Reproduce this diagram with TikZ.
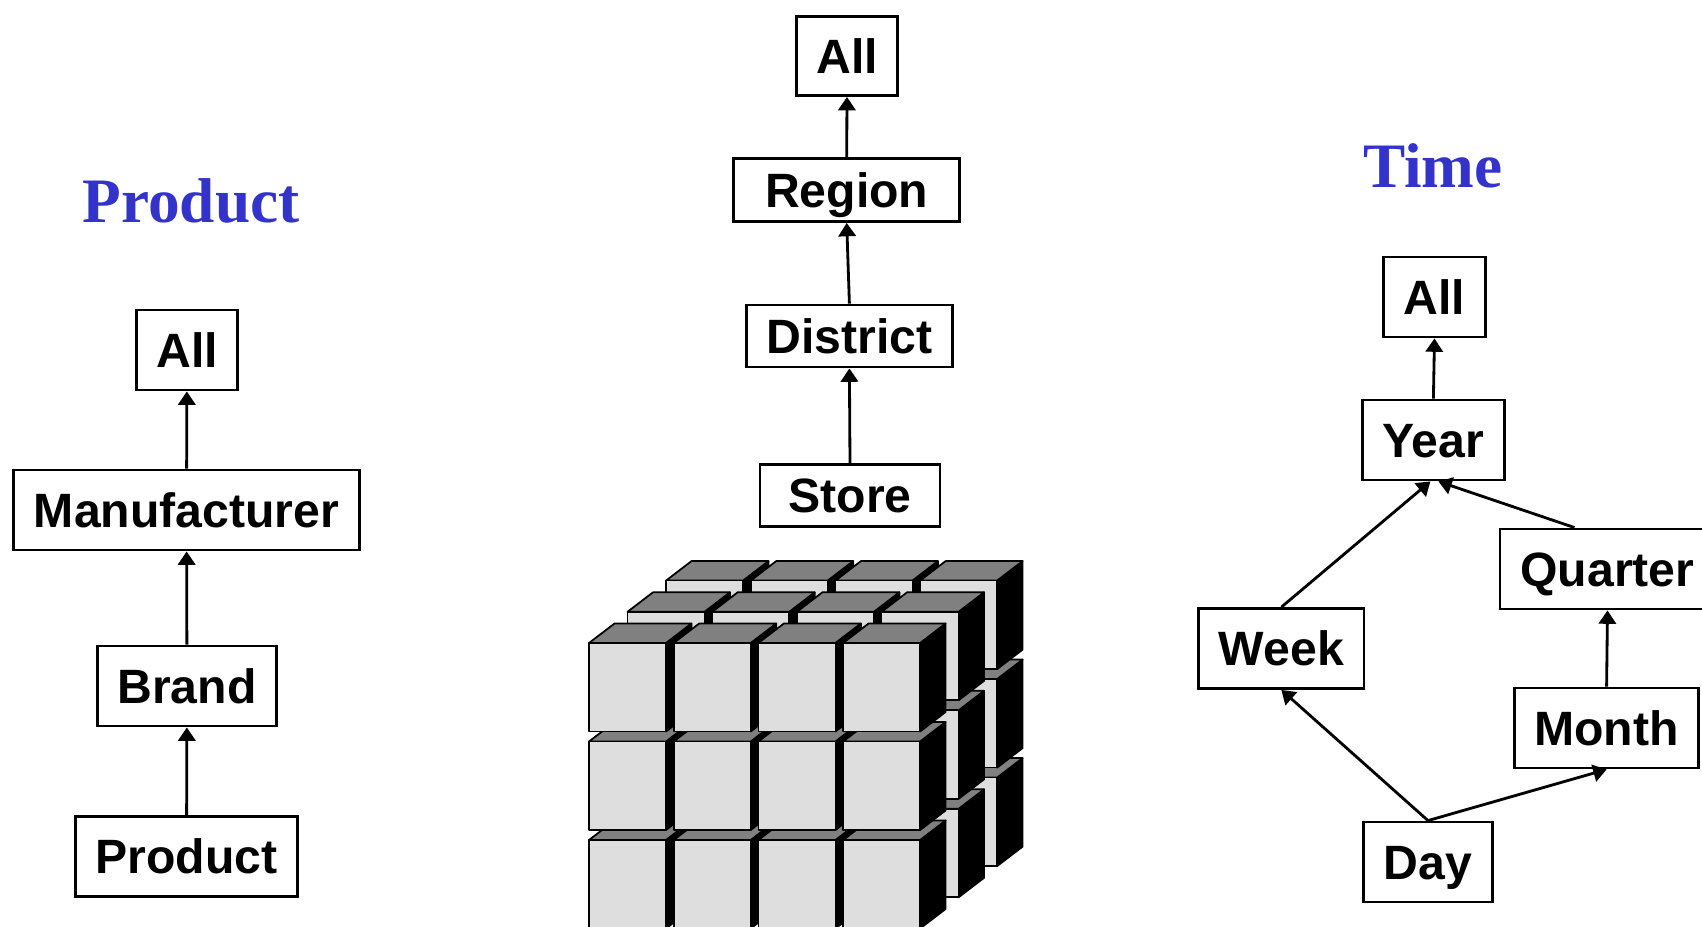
\documentclass[tikz,border=0pt]{standalone}
\usepackage{fontspec}
\setmainfont{Liberation Sans}
\newfontfamily\titlefont{Liberation Serif}
\usepackage{tikz}
\usetikzlibrary{arrows.meta}
\definecolor{titleblue}{HTML}{3333CC}
\definecolor{cubefront}{HTML}{DEDEDE}
\definecolor{cubetop}{HTML}{808080}
\tikzstyle{lvl}=[draw,line width=0.8pt,inner xsep=0.2cm,minimum height=0.8cm,text height=0.345cm,text depth=0pt,font=\fontsize{13.7}{16}\selectfont\bfseries]
\tikzstyle{dimtitle}=[anchor=base,font=\fontsize{18}{20}\selectfont\titlefont\bfseries\color{titleblue}]
\tikzstyle{arr}=[-{Triangle[length=3.8pt,width=4.9pt]},line width=0.8pt]
\tikzstyle{cubeedge}=[draw=black,line width=0.5pt,line join=round]

\begin{document}
\begin{tikzpicture}[x=0.01cm,y=-0.01cm]
  \useasboundingbox (0,0) rectangle (1702,927);
  % product dimension
  \node[dimtitle] (prodtitle) at (191,222) {Product};
  \node[lvl] (pall) at (187,350) {All};
  \node[lvl] (pmfr) at (186.5,510) {Manufacturer};
  \node[lvl] (pbrand) at (187,686) {Brand};
  \node[lvl] (pprod) at (186.5,856.5) {Product};
  \draw[arr] (pmfr) -- (pall);
  \draw[arr] (pbrand) -- (pmfr);
  \draw[arr] (pprod) -- (pbrand);
  % store dimension
  \node[lvl,minimum height=0.79cm] (sall) at (847,56) {All};
  \node[lvl,minimum height=0.63cm,minimum width=2.26cm] (sregion) at (846.7,190) {Region};
  \node[lvl,minimum height=0.62cm] (sdistrict) at (849.4,336) {District};
  \node[lvl,minimum height=0.62cm,minimum width=1.8cm] (sstore) at (850,495.5) {Store};
  \draw[arr] (sregion.north) -- (sall.south);
  \draw[arr] (sdistrict.north) -- (sregion.south);
  \draw[arr] (sstore.north) -- (sdistrict.south);
  % time dimension
  \node[dimtitle] (timetitle) at (1433,187) {Time};
  \node[lvl] (tall) at (1434.5,297) {All};
  \node[lvl] (tyear) at (1433.4,440) {Year};
  \node[lvl,minimum width=2.15cm] (tquarter) at (1607.5,569) {Quarter};
  \node[lvl] (tweek) at (1281.4,648.5) {Week};
  \node[lvl] (tmonth) at (1606.6,728) {Month};
  \node[lvl] (tday) at (1428,862) {Day};
  \draw[arr] (tyear.north) -- (tall.south);
  \draw[arr] (tweek.north) -- ([xshift=-0.03cm]tyear.south);
  \draw[arr] ([xshift=-0.33cm]tquarter.north) -- ([xshift=0.05cm]tyear.south);
  \draw[arr] (tday.north) -- (tweek.south);
  \draw[arr] (tday.north) -- (tmonth.south);
  \draw[arr] (tmonth.north) -- (tquarter.south);
  % data cube, back layer first
  \foreach \k in {2,1,0} {
    \foreach \r in {2,1,0} {
      \foreach \c in {0,1,2,3} {
        \pgfmathsetmacro\cx{589+84.7*\c+38.5*\k}
        \pgfmathsetmacro\cy{643+98.5*\r-31.2*\k}
        \draw[cubeedge,fill=black] (\cx+77,\cy) -- ++(25.5,-19.5) -- ++(0,88.5) -- ++(-25.5,19.5) -- cycle;
        \draw[cubeedge,fill=cubetop] (\cx,\cy) -- ++(25.5,-19.5) -- ++(77,0) -- ++(-25.5,19.5) -- cycle;
        \draw[cubeedge,fill=cubefront] (\cx,\cy) rectangle ++(77,88.5);
      }
    }
  }
\end{tikzpicture}
\end{document}
